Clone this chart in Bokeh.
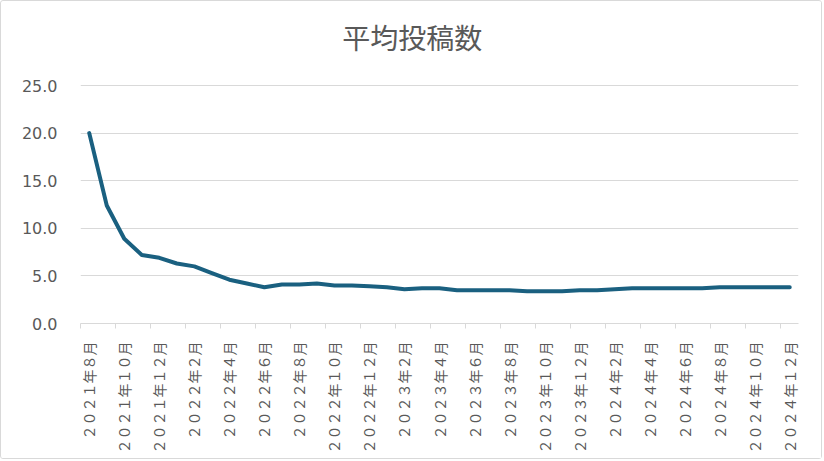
import math
from bokeh.plotting import figure
from bokeh.models import Range1d, FixedTicker, NumeralTickFormatter, ColumnDataSource, Label
from bokeh.embed import file_html
from bokeh.resources import INLINE

# ---- data ----
title_text = "平均投稿数"
years = [2021] * 5 + [2022] * 12 + [2023] * 12 + [2024] * 12
months = list(range(8, 13)) + list(range(1, 13)) * 3
values = [20.0, 12.4, 8.9, 7.2, 6.9, 6.3, 6.0, 5.3, 4.6, 4.2,
          3.8, 4.1, 4.1, 4.2, 4.0, 4.0, 3.9, 3.8, 3.6, 3.7,
          3.7, 3.5, 3.5, 3.5, 3.5, 3.4, 3.4, 3.4, 3.5, 3.5,
          3.6, 3.7, 3.7, 3.7, 3.7, 3.7, 3.8, 3.8, 3.8, 3.8, 3.8]
y_ticks = [0, 5, 10, 15, 20, 25]

fw = str.maketrans("0123456789", "０１２３４５６７８９")
labels = [f"{y}年{m}月".translate(fw) for y, m in zip(years, months)]
idx = list(range(len(values)))

FONT = "Noto Sans CJK JP"
TEXT = "#595959"
GRID = "#d9d9d9"

# frame extends to the top of the chart so the title can sit inside it;
# the value axis keeps 25 units over 238 px
H, BOTTOM = 459, 137
y_top = 25 * (H - BOTTOM) / 238

p = figure(width=822, height=H, output_backend="svg", toolbar_location=None, title=None,
           x_range=Range1d(-0.5, len(values) - 0.5), y_range=Range1d(0, y_top),
           min_border_left=79, min_border_right=25, min_border_top=0, min_border_bottom=BOTTOM)
p.styles = {"border": "1px solid #d9d9d9", "border-radius": "3px"}

p.add_layout(Label(x=18.45, y=y_top * (H - BOTTOM - 35) / (H - BOTTOM), text=title_text,
                   text_align="center", text_baseline="middle",
                   text_font=FONT, text_font_size="28px", text_color=TEXT))

src = ColumnDataSource(dict(x=idx, y=values))
p.line("x", "y", source=src, line_color="#1a6080", line_width=4, line_join="round", line_cap="round")

p.outline_line_color = None
p.background_fill_color = "white"
p.border_fill_color = "white"

p.xgrid.grid_line_color = None
p.ygrid.grid_line_color = GRID
p.ygrid.grid_line_width = 1

p.yaxis.ticker = FixedTicker(ticks=y_ticks)
p.yaxis.formatter = NumeralTickFormatter(format="0.0")
p.yaxis.axis_line_color = None
p.yaxis.major_tick_line_color = None
p.yaxis.minor_tick_line_color = None
p.yaxis.major_label_text_font = "DejaVu Sans"
p.yaxis.major_label_text_font_size = "16px"
p.yaxis.major_label_text_color = TEXT
p.yaxis.major_label_standoff = 17

p.xaxis.ticker = FixedTicker(ticks=idx[::2], minor_ticks=[i - 0.5 for i in idx[::2]])
p.xaxis.major_label_overrides = {i: labels[i] for i in idx[::2]}
p.xaxis.major_label_orientation = math.pi / 2
p.xaxis.axis_line_color = GRID
p.xaxis.axis_line_width = 1
p.xaxis.major_tick_line_color = None
p.xaxis.major_tick_out = 0
p.xaxis.major_tick_in = 0
p.xaxis.minor_tick_line_color = GRID
p.xaxis.minor_tick_out = 5
p.xaxis.minor_tick_in = 0
p.xaxis.major_label_text_font = FONT
p.xaxis.major_label_text_font_size = "14px"
p.xaxis.major_label_text_color = TEXT
p.xaxis.major_label_standoff = 13

open("out.html", "w").write(file_html(p, INLINE))
